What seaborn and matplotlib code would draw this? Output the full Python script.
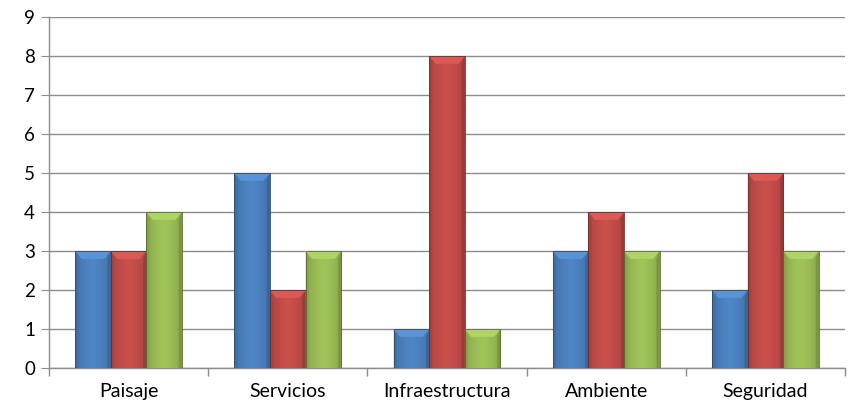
import matplotlib
matplotlib.use("Agg")
import matplotlib.pyplot as plt
import seaborn as sns
import pandas as pd
import numpy as np
from matplotlib.colors import to_rgb

categories = ["Paisaje", "Servicios", "Infraestructura", "Ambiente", "Seguridad"]
serie1 = [3, 5, 1, 3, 2]
serie2 = [3, 2, 8, 4, 5]
serie3 = [4, 3, 1, 3, 3]
series_names = ["Serie 1", "Serie 2", "Serie 3"]
colors = ["#4A7EBB", "#BE4B48", "#98B954"]

rows = []
for name, vals in zip(series_names, [serie1, serie2, serie3]):
    for c, v in zip(categories, vals):
        rows.append({"cat": c, "serie": name, "val": v})
df = pd.DataFrame(rows)

sns.set_style("white")
plt.rcParams['font.family'] = ['Lato', 'DejaVu Sans']

fig = plt.figure(figsize=(8.58, 4.05), dpi=100)
ax = fig.add_axes([0.057, 0.091, 0.928, 0.867])

sns.barplot(data=df, x="cat", y="val", hue="serie", order=categories,
            hue_order=series_names, palette=colors, width=0.67, gap=0,
            legend=False, ax=ax, saturation=1, zorder=3, linewidth=0)

# bevel / gradient shading
for patch in ax.patches:
    x0, y0 = patch.get_x(), patch.get_y()
    w, h = patch.get_width(), patch.get_height()
    if h <= 0:
        continue
    base = np.array(to_rgb(patch.get_facecolor()))
    xs = np.linspace(-1, 1, 60)
    shade = 1.0 + 0.16 * (1 - np.abs(xs) ** 1.5) - 0.10
    img = np.clip(base[None, :] * shade[:, None], 0, 1)[None, :, :]
    im = ax.imshow(img, extent=[x0, x0 + w, y0, y0 + h], aspect="auto",
                   zorder=3.5, interpolation="bilinear")
    im.set_clip_path(patch)
    # top bevel
    bev = min(0.2, h * 0.5)
    dx = w * 0.18
    top = y0 + h
    light = np.clip(base * 1.1 + 0.03, 0, 1)
    ax.fill([x0, x0 + w, x0 + w - dx, x0 + dx], [top, top, top - bev, top - bev],
            color=light, zorder=4, lw=0)
    # side bevels
    dark = base * 0.7
    ax.fill([x0, x0 + dx * 0.5, x0 + dx * 0.5, x0], [top, top - bev, y0, y0],
            color=base * 0.85, zorder=4, lw=0, alpha=0.5)
    ax.fill([x0 + w, x0 + w - dx * 0.5, x0 + w - dx * 0.5, x0 + w], [top, top - bev, y0, y0],
            color=dark, zorder=4, lw=0, alpha=0.5)
    ax.add_patch(plt.Rectangle((x0, y0), w, h, fill=False, ec=base * 0.6, lw=0.6, zorder=4.5))

ax.set_ylim(0, 9)
ax.set_xlim(-0.5, len(categories) - 0.5)
ax.set_yticks(range(0, 10))
ax.yaxis.grid(True, color="#8C8C8C", lw=1, zorder=0)
ax.set_axisbelow(True)
ax.set_xlabel("")
ax.set_ylabel("")

for s in ["top", "right"]:
    ax.spines[s].set_visible(False)
for s in ["left", "bottom"]:
    ax.spines[s].set_color("#8C8C8C")
    ax.spines[s].set_linewidth(1)

ax.tick_params(axis="y", which="both", left=True, length=6, color="#8C8C8C",
               labelsize=13.5, pad=4, labelcolor="black")
ax.set_xticks(range(len(categories)))
ax.set_xticklabels(categories)
ax.tick_params(axis="x", which="major", bottom=False, labelsize=14, pad=7, labelcolor="black")
ax.set_xticks([i + 0.5 for i in range(-1, len(categories))], minor=True)
ax.tick_params(axis="x", which="minor", bottom=True, length=6, color="#8C8C8C", width=1)

fig.savefig("out.png", dpi=100)
